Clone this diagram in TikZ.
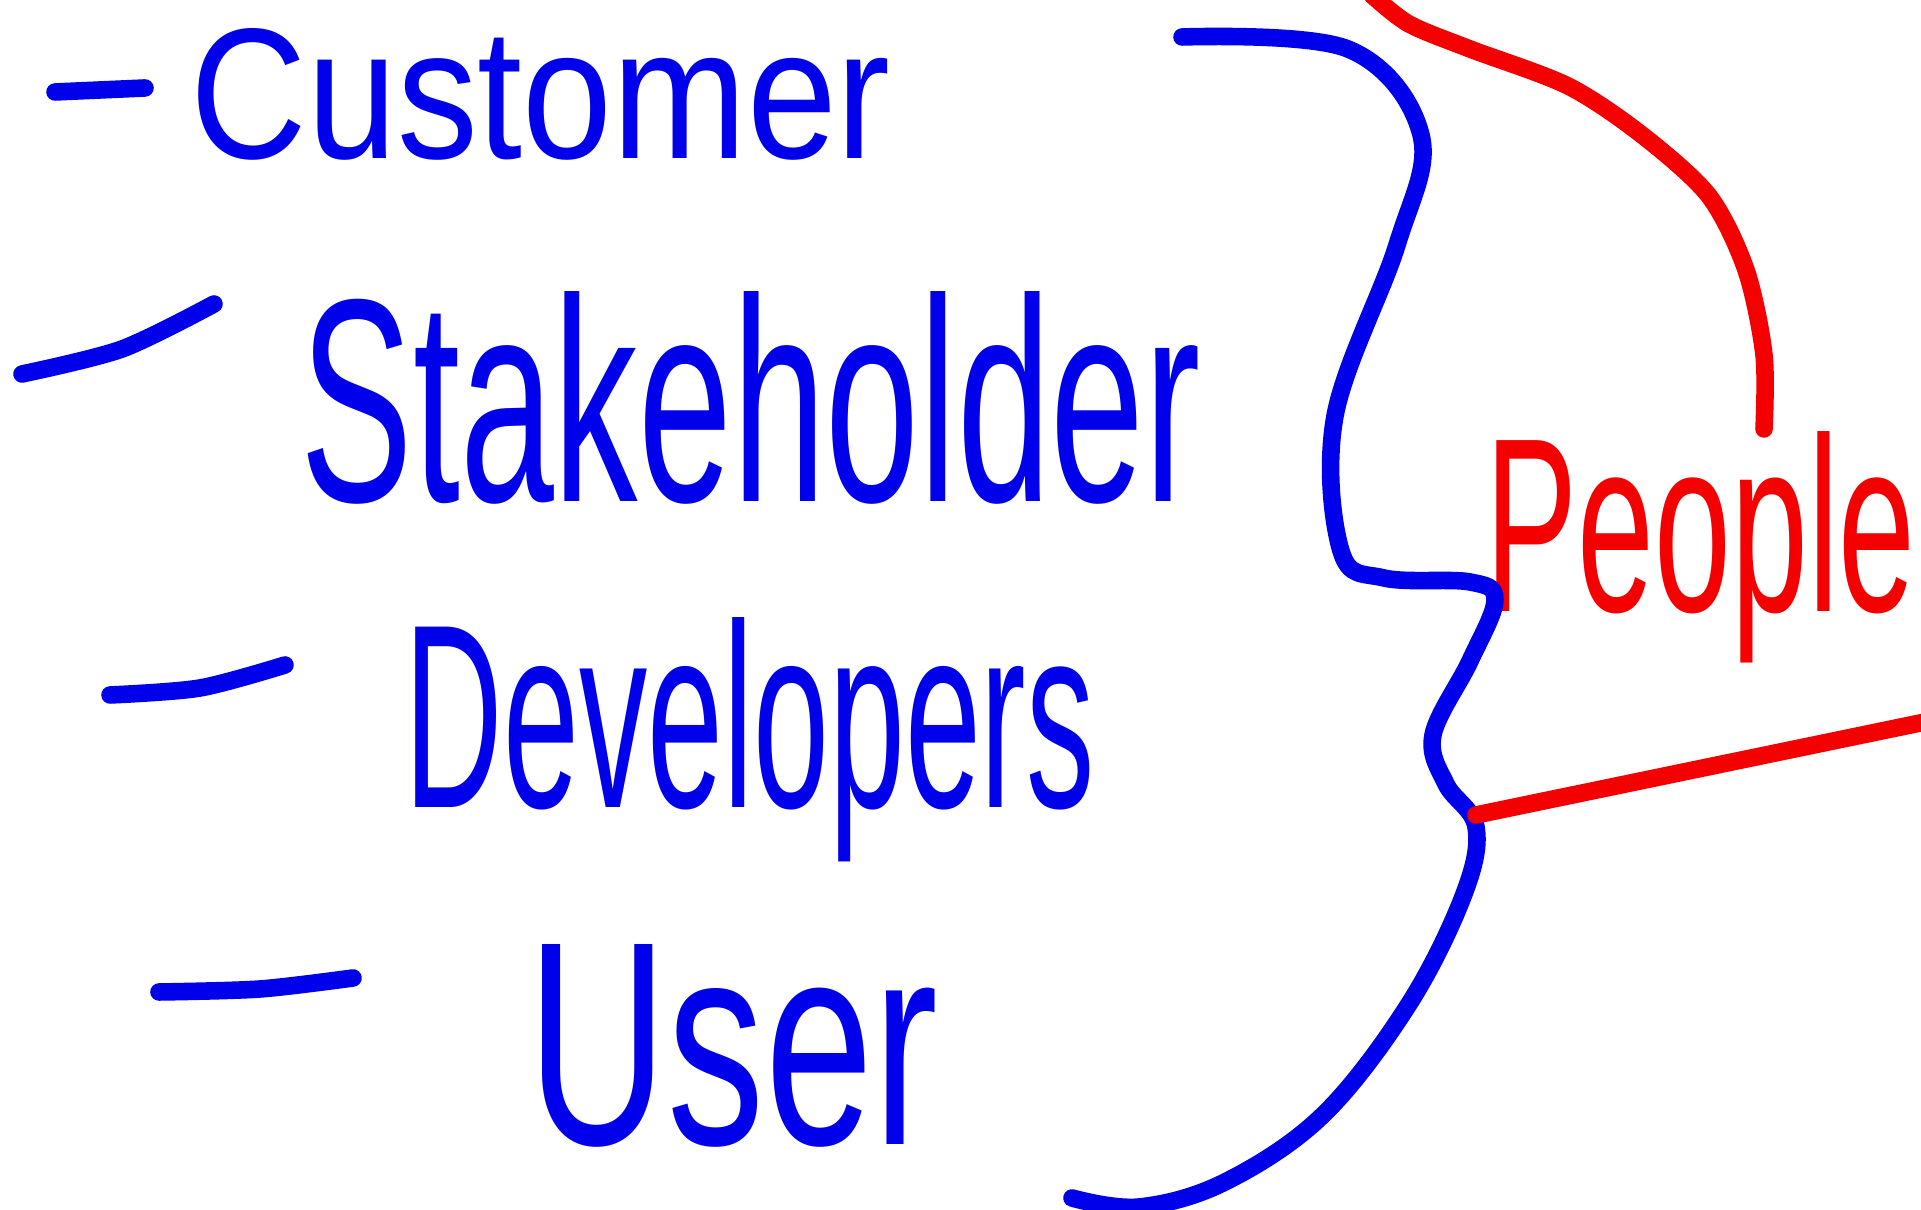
\documentclass[tikz,border=0pt]{standalone}
\usepackage{fontspec}
\setmainfont{Liberation Sans}
\usepackage{graphicx}
\definecolor{inkblue}{RGB}{0,0,235}
\definecolor{inkred}{RGB}{245,0,0}
\tikzset{
  bluestroke/.style={draw=inkblue, line width=5pt, line cap=round, line join=round},
  redstroke/.style={draw=inkred, line width=5pt, line cap=round, line join=round},
  word/.style={inner sep=0pt, anchor=base west, text=inkblue},
  redword/.style={inner sep=0pt, anchor=base west, text=inkred}
}
\begin{document}
\begin{tikzpicture}
\fill[white] (0,0) rectangle (19.21,12.10);
\useasboundingbox (0,0) rectangle (19.21,12.10);
\clip (0,0) rectangle (19.21,12.10);

% dashes
\draw[bluestroke] (0.55,11.18) -- (1.45,11.22);
\draw[bluestroke] plot[smooth] coordinates {(0.22,8.36) (1.22,8.61) (2.14,9.06)};
\draw[bluestroke] plot[smooth] coordinates {(1.10,5.15) (2.0,5.22) (2.85,5.45)};
\draw[bluestroke] plot[smooth] coordinates {(1.59,2.18) (2.6,2.21) (3.53,2.32)};

% words
\node[word] (customer) at (1.90,10.51) {\resizebox{7.0cm}{1.3cm}{Customer}};
\node[word] (stake) at (3.00,7.08) {\resizebox{9.0cm}{2.1cm}{Stakeholder}};
\node[word] (dev) at (4.04,4.02) {\resizebox{6.9cm}{1.9cm}{Developers}};
\node[word] (user) at (5.27,0.65) {\resizebox{4.1cm}{2.0cm}{User}};
\node[redword] (people) at (14.85,5.98) {\resizebox{4.3cm}{1.8cm}{People}};

% brace
\draw[bluestroke] plot[smooth, tension=0.6] coordinates {
 (11.82,11.73) (13.48,11.61) (14.21,10.75) (13.97,9.65) (13.35,7.94)
 (13.41,6.59) (13.84,6.32) (14.70,6.28) (14.95,6.10) (14.70,5.49)
 (14.33,4.75) (14.46,4.26) (14.76,3.83) (14.64,3.16) (14.09,2.06)
 (13.23,0.95) (12.25,0.28) (11.39,0.03) (10.72,0.12)};
\coordinate (tip) at (14.76,3.95);

% red
\draw[redstroke] plot[smooth] coordinates {
 (13.72,12.15) (14.09,11.86) (14.70,11.61) (15.68,11.24) (16.42,10.75)
 (17.09,10.14) (17.46,9.40) (17.64,8.55) (17.64,7.81)};
\coordinate (redend) at (19.25,4.88);
\draw[redstroke] (tip) -- (redend);
\end{tikzpicture}
\end{document}
